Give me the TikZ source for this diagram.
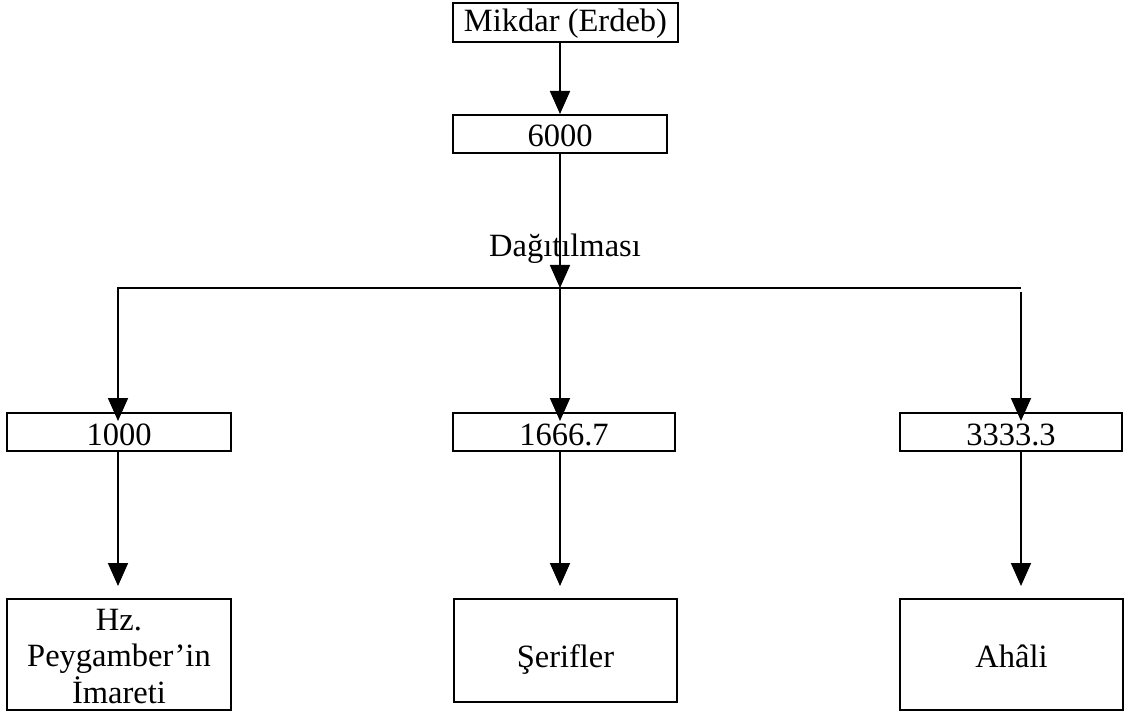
\documentclass[tikz,border=0pt]{standalone}
\usepackage{fontspec}
\setmainfont{Liberation Serif}
\usetikzlibrary{arrows.meta}
\begin{document}
\begin{tikzpicture}[x=1pt,y=-1pt,
  box/.style={draw,line width=2pt,inner sep=0pt,font=\fontsize{32.5}{36.5}\selectfont,align=center},
  numbox/.style={box,minimum height=38pt,text height=26pt,text depth=0pt},
  conn/.style={line width=1.8pt},
  arr/.style={conn,-{Triangle[width=20pt,length=23pt]}}]
\useasboundingbox (0,0) rectangle (1127,711);
\node[box,minimum width=225pt,minimum height=39pt,text height=23pt,text depth=4pt] (m) at (565.5,22.5) {Mikdar (Erdeb)};
\node[numbox,minimum width=214pt] (n6000) at (560,134) {6000};
\node[numbox,minimum width=224pt] (b1) at (119,432) {1000};
\node[numbox,minimum width=222pt] (b2) at (564,432) {1666.7};
\node[numbox,minimum width=222pt] (b3) at (1011,432) {3333.3};
\node[box,minimum width=224pt,minimum height=111pt,text height=97pt,text depth=0pt] (c1) at (119,654.5) {Hz.\\Peygamber’in\\İmareti};
\node[box,minimum width=223pt,minimum height=103pt,text height=33pt,text depth=0pt] (c2) at (565.5,650.5) {Şerifler};
\node[box,minimum width=223pt,minimum height=111pt,text height=25pt,text depth=0pt] (c3) at (1011.5,654.5) {Ahâli};
\node[font=\fontsize{32.5}{35}\selectfont,anchor=base,inner sep=0pt] (lbl) at (565,257) {Dağıtılması};
\coordinate (split) at (560,288);
\coordinate (hl) at (117,288);
\coordinate (hr) at (1021,288);
\coordinate (xl) at (118,0);
\coordinate (xr) at (1021,0);
% top arrows
\draw[arr] (m.south -| n6000.center) -- (n6000.north);
\draw[arr] (n6000.south) -- (split);
\draw[conn] (hl) -- (hr);
% arrows into value boxes
\draw[arr,shorten >=-9pt] (hl -| xl) -- (b1.north -| xl);
\draw[arr,shorten >=-9pt] (split) -- (b2.north -| split);
\draw[arr,shorten >=-9pt] ([yshift=-4pt]hr) -- (b3.north -| xr);
% arrows into bottom boxes
\draw[arr,shorten >=12pt] (b1.south -| xl) -- (c1.north -| xl);
\draw[arr,shorten >=12pt] (b2.south -| split) -- (c2.north -| split);
\draw[arr,shorten >=12pt] (b3.south -| xr) -- (c3.north -| xr);
\end{tikzpicture}
\end{document}
